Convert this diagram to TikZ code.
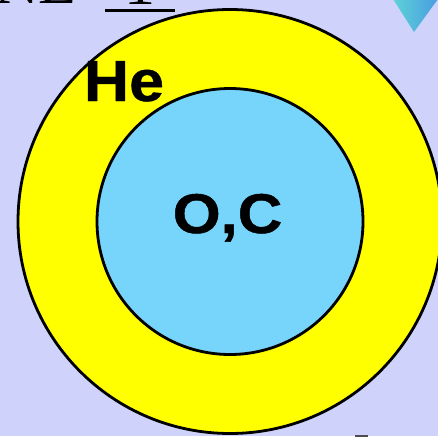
\documentclass[tikz,border=0pt]{standalone}
\usepackage{fontspec}
\setmainfont{Liberation Serif}
\newfontfamily\labelfont{Liberation Sans}[BoldFeatures={FakeBold=0.8}]
\definecolor{bgcol}{HTML}{CFD3FB}
\definecolor{hecol}{HTML}{FFFF00}
\definecolor{cocol}{HTML}{77D5FB}
\definecolor{triL}{HTML}{5FD2D6}
\definecolor{triR}{HTML}{489CE2}
\tikzset{
  shell/.style={draw=black, line width=2.8pt},
  biglabel/.style={inner sep=0pt, anchor=base, text=black},
}
\begin{document}
\begin{tikzpicture}[x=1pt, y=-1pt]
\useasboundingbox (0,0) rectangle (438,436);
\clip (0,0) rectangle (438,436);
\fill[bgcol] (0,0) rectangle (438,436);
% title fragments at the top
\node[inner sep=0pt, anchor=base west] (title) at (-6,4) {\fontsize{62}{62}\selectfont NE};
\node[inner sep=0pt, anchor=base] (one) at (140,5) {\fontsize{62}{62}\selectfont 1};
\draw[line width=3pt] (105,10.5) -- (175,10.5);
% triangle at top right
\shade[left color=triL, right color=triR] (393,-1) -- (438,-1) -- (414,32) -- cycle;
% small fragment at bottom
\fill[black!70] (355,434.5) rectangle (368,437);
% shells
\coordinate (c) at (230,221.5);
\fill[hecol] (c) circle[radius=212];
\draw[shell] (c) circle[radius=212];
\fill[cocol] (c) circle[radius=133];
\draw[shell] (c) circle[radius=133];
% labels
\node[biglabel] (he) at (124,101) {\labelfont\bfseries\fontsize{58}{58}\selectfont\scalebox{1.08}[1]{He}};
\node[biglabel] (oc) at (227.5,233) {\labelfont\bfseries\fontsize{56}{56}\selectfont\scalebox{1.1}[1]{O,C}};
\end{tikzpicture}
\end{document}
